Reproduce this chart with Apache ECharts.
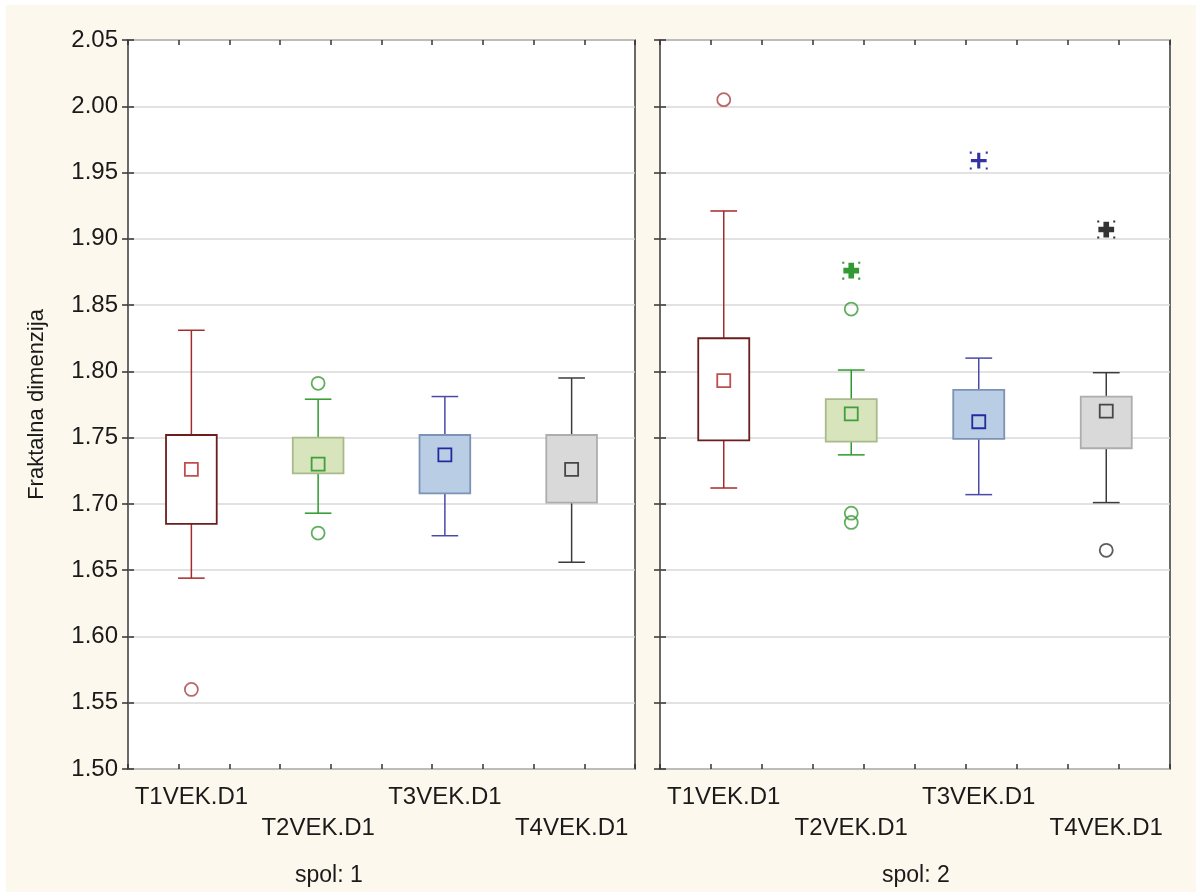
<!DOCTYPE html>
<html>
<head>
<meta charset="utf-8">
<script src="https://cdn.jsdelivr.net/npm/echarts@6/dist/echarts.min.js"></script>
<style>
  html, body { margin: 0; padding: 0; background: #ffffff; }
  #bg { position: absolute; left: 6px; top: 5px; width: 1190px; height: 887px; background: #fdf8ed; }
  #chart { position: absolute; left: 0; top: 0; width: 1196px; height: 892px; }
</style>
</head>
<body>
<div id="bg"></div>
<div id="chart"></div>
<script>
// ---- data ----
const categories = ['T1VEK.D1', 'T2VEK.D1', 'T3VEK.D1', 'T4VEK.D1'];
const panelNames = ['spol: 1', 'spol: 2'];
const yAxisName = 'Fraktalna dimenzija';
const yMin = 1.50, yMax = 2.05, yStep = 0.05;

// spol 1
const s1WhiskerLow  = [1.644, 1.693, 1.676, 1.656];
const s1BoxLow      = [1.685, 1.723, 1.708, 1.701];
const s1BoxHigh     = [1.752, 1.750, 1.752, 1.752];
const s1WhiskerHigh = [1.831, 1.779, 1.781, 1.795];
const s1Median      = [1.726, 1.730, 1.737, 1.726];
const s1Outliers    = [[0, 1.560], [1, 1.791], [1, 1.678]];
const s1Extremes    = [];

// spol 2
const s2WhiskerLow  = [1.712, 1.737, 1.707, 1.701];
const s2BoxLow      = [1.748, 1.747, 1.749, 1.742];
const s2BoxHigh     = [1.825, 1.779, 1.786, 1.781];
const s2WhiskerHigh = [1.921, 1.801, 1.810, 1.799];
const s2Median      = [1.793, 1.768, 1.762, 1.770];
const s2Outliers    = [[0, 2.005], [1, 1.847], [1, 1.693], [1, 1.686], [3, 1.665]];
const s2Extremes    = [[1, 1.876], [2, 1.959], [3, 1.907]];

// ---- styles ----
const whiskerColors = ['#a52a2a', '#2e9a2e', '#4a4aa8', '#3c3c3c'];
const boxBorders    = ['#6b1e1e', '#a9b98c', '#7d93b5', '#adadad'];
const boxFills      = ['#ffffff', '#d8e4bc', '#b9cde5', '#d9d9d9'];
const medianColors  = ['#b22222', '#1a8f1a', '#00008b', '#222222'];
const outlierColors = ['#a94444', '#3a9a3a', '#3a3aa0', '#333333'];
const extremeColors = ['#8b0000', '#008000', '#00008b', '#000000'];
const FONT = "'Liberation Sans', Arial, sans-serif";
const dots = ' M0,0h1.8v1.8h-1.8Z M14.2,0h1.8v1.8h-1.8Z M0,14.2h1.8v1.8h-1.8Z M14.2,14.2h1.8v1.8h-1.8Z';
const starBold = 'path://M5.5,1H10.5V5.5H15V10.5H10.5V15H5.5V10.5H1V5.5H5.5Z' + dots;
const starThin = 'path://M6.6,1H9.4V6.6H15V9.4H9.4V15H6.6V9.4H1V6.6H6.6Z' + dots;
const extremeSymbols = [starBold, starBold, starThin, starBold];

const panels = [
  { wl: s1WhiskerLow, bl: s1BoxLow, bh: s1BoxHigh, wh: s1WhiskerHigh, med: s1Median, out: s1Outliers, ext: s1Extremes },
  { wl: s2WhiskerLow, bl: s2BoxLow, bh: s2BoxHigh, wh: s2WhiskerHigh, med: s2Median, out: s2Outliers, ext: s2Extremes }
];

const grids = [
  { left: 128, top: 40, width: 507, height: 729 },
  { left: 660, top: 40, width: 510, height: 729 }
].map(g => Object.assign(g, { show: true, backgroundColor: '#ffffff', borderColor: '#3a3a3a', borderWidth: 1.5 }));

const xAxes = [], yAxes = [], series = [];
panels.forEach((p, gi) => {
  const catIdx = xAxes.length;
  xAxes.push({
    type: 'category', gridIndex: gi, data: categories, position: 'bottom',
    axisLine: { show: false }, axisTick: { show: false }, splitLine: { show: false },
    axisLabel: {
      interval: 0, margin: 13, fontSize: 24, fontFamily: FONT, color: '#1a1a1a', lineHeight: 31,
      formatter: (v, i) => (i % 2 ? '\n' + v : v)
    }
  });
  ['bottom', 'top'].forEach(pos => xAxes.push({
    type: 'value', gridIndex: gi, position: pos, min: 0, max: 10, interval: 1,
    axisLine: { show: false }, axisLabel: { show: false }, splitLine: { show: false },
    axisTick: { show: true, inside: true, length: 5, lineStyle: { color: '#333', width: 1.5 } }
  }));
  const yIdx = yAxes.length;
  yAxes.push({
    type: 'value', gridIndex: gi, position: 'left', min: yMin, max: yMax, interval: yStep,
    axisLine: { show: false },
    axisTick: { show: true, inside: true, length: 6, lineStyle: { color: '#333', width: 1.5 } },
    splitLine: { show: true, lineStyle: { color: '#d9d9d9', width: 1.5 } },
    axisLabel: gi === 0 ? { show: true, margin: 10, fontSize: 24, fontFamily: FONT, color: '#1a1a1a', formatter: v => v.toFixed(2) } : { show: false },
    name: gi === 0 ? yAxisName : '', nameLocation: 'middle', nameGap: 80,
    nameTextStyle: { fontSize: 22, fontFamily: FONT, color: '#1a1a1a' }
  });
  yAxes.push({
    type: 'value', gridIndex: gi, position: 'right', min: yMin, max: yMax, interval: yStep,
    axisLine: { show: false }, axisLabel: { show: false }, splitLine: { show: false },
    axisTick: { show: true, inside: true, length: 6, lineStyle: { color: '#333', width: 1.5 } }
  });

  // boxes + whiskers
  series.push({
    type: 'custom', xAxisIndex: catIdx, yAxisIndex: yIdx,
    data: categories.map((c, i) => [i, p.wl[i], p.bl[i], p.bh[i], p.wh[i]]),
    encode: { x: 0, y: [1, 2, 3, 4] },
    renderItem: (params, api) => {
      const i = api.value(0);
      const band = api.size([1, 0])[0];
      const bw = band * 0.40, cw = band * 0.21;
      const pWl = api.coord([i, api.value(1)]);
      const pBl = api.coord([i, api.value(2)]);
      const pBh = api.coord([i, api.value(3)]);
      const pWh = api.coord([i, api.value(4)]);
      const x = pWl[0];
      const ls = { stroke: whiskerColors[i], lineWidth: 1.5, fill: null };
      return {
        type: 'group',
        children: [
          { type: 'line', shape: { x1: x, y1: pWl[1], x2: x, y2: pBl[1] }, style: ls },
          { type: 'line', shape: { x1: x, y1: pBh[1], x2: x, y2: pWh[1] }, style: ls },
          { type: 'line', shape: { x1: x - cw / 2, y1: pWl[1], x2: x + cw / 2, y2: pWl[1] }, style: ls },
          { type: 'line', shape: { x1: x - cw / 2, y1: pWh[1], x2: x + cw / 2, y2: pWh[1] }, style: ls },
          { type: 'rect', shape: { x: x - bw / 2, y: pBh[1], width: bw, height: pBl[1] - pBh[1] },
            style: { fill: boxFills[i], stroke: boxBorders[i], lineWidth: 1.8 } }
        ]
      };
    },
    z: 3
  });
  // medians
  series.push({
    type: 'scatter', xAxisIndex: catIdx, yAxisIndex: yIdx, symbol: 'rect', symbolSize: 13, z: 5,
    data: p.med.map((v, i) => ({ value: [i, v], itemStyle: { color: 'rgba(0,0,0,0)', borderColor: medianColors[i], borderWidth: 1.8 } }))
  });
  // outliers
  series.push({
    type: 'scatter', xAxisIndex: catIdx, yAxisIndex: yIdx, symbol: 'circle', symbolSize: 13, z: 5,
    data: p.out.map(d => ({ value: d, itemStyle: { color: 'rgba(0,0,0,0)', borderColor: outlierColors[d[0]], borderWidth: 1.8 } }))
  });
  // extremes
  series.push({
    type: 'scatter', xAxisIndex: catIdx, yAxisIndex: yIdx, symbolSize: 18, z: 5,
    data: p.ext.map(d => ({ value: d, symbol: extremeSymbols[d[0]], itemStyle: { color: extremeColors[d[0]] } }))
  });
});

const chart = echarts.init(document.getElementById('chart'), null, { renderer: 'canvas' });
chart.setOption({
  backgroundColor: 'transparent',
  animation: false,
  grid: grids,
  xAxis: xAxes,
  yAxis: yAxes,
  series: series,
  graphic: [
    { type: 'text', left: 329 - 34, top: 864, style: { text: panelNames[0], font: "23px " + FONT, fill: '#1a1a1a' } },
    { type: 'text', left: 916 - 34, top: 864, style: { text: panelNames[1], font: "23px " + FONT, fill: '#1a1a1a' } }
  ]
});
</script>
</body>
</html>
